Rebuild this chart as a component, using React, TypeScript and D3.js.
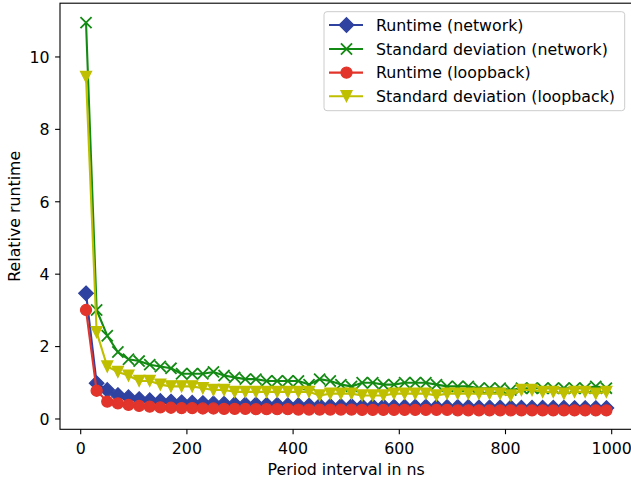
import React from 'react';
import * as d3 from 'd3';

// period intervals in ns (x values of every series)
const periods = d3.range(10, 1000, 20);

const runtimeNetwork = [
  3.47, 0.99, 0.8, 0.66, 0.6, 0.55, 0.52, 0.5, 0.48, 0.46,
  0.45, 0.44, 0.43, 0.42, 0.41, 0.4, 0.4, 0.39, 0.39, 0.38,
  0.38, 0.37, 0.37, 0.36, 0.36, 0.36, 0.35, 0.35, 0.35, 0.34,
  0.34, 0.34, 0.34, 0.33, 0.33, 0.33, 0.33, 0.32, 0.32, 0.32,
  0.32, 0.31, 0.31, 0.31, 0.31, 0.31, 0.3, 0.3, 0.3, 0.3,
];
const stdNetwork = [
  10.95, 3.01, 2.3, 1.85, 1.65, 1.6, 1.5, 1.45, 1.4, 1.25,
  1.25, 1.25, 1.3, 1.2, 1.15, 1.1, 1.1, 1.05, 1.05, 1.05,
  1.05, 0.95, 1.1, 1.05, 0.95, 0.9, 1.0, 1.0, 0.95, 0.95,
  1.0, 1.0, 1.0, 0.95, 0.9, 0.9, 0.9, 0.85, 0.85, 0.85,
  0.8, 0.85, 0.85, 0.85, 0.85, 0.85, 0.85, 0.85, 0.9, 0.85,
];
const runtimeLoopback = [
  3.01, 0.78, 0.48, 0.43, 0.39, 0.36, 0.34, 0.32, 0.31, 0.3,
  0.3, 0.29, 0.29, 0.28, 0.28, 0.28, 0.27, 0.27, 0.27, 0.27,
  0.26, 0.26, 0.26, 0.26, 0.26, 0.26, 0.25, 0.25, 0.25, 0.25,
  0.25, 0.25, 0.25, 0.25, 0.25, 0.24, 0.24, 0.24, 0.24, 0.24,
  0.24, 0.24, 0.24, 0.24, 0.24, 0.24, 0.24, 0.24, 0.24, 0.24,
];
const stdLoopback = [
  9.45, 2.4, 1.45, 1.3, 1.2, 1.05, 1.05, 0.95, 0.9, 0.9,
  0.9, 0.85, 0.8, 0.8, 0.75, 0.75, 0.75, 0.75, 0.75, 0.75,
  0.75, 0.75, 0.65, 0.7, 0.7, 0.7, 0.65, 0.65, 0.65, 0.7,
  0.7, 0.7, 0.7, 0.65, 0.7, 0.7, 0.7, 0.7, 0.7, 0.7,
  0.65, 0.8, 0.8, 0.75, 0.75, 0.7, 0.75, 0.75, 0.7, 0.75,
];

const xTicks = [0, 200, 400, 600, 800, 1000];
const yTicks = [0, 2, 4, 6, 8, 10];

type Marker = 'diamond' | 'x' | 'circle' | 'tri';

const series: { label: string; values: number[]; color: string; marker: Marker }[] = [
  { label: 'Runtime (network)', values: runtimeNetwork, color: '#2f42a0', marker: 'diamond' },
  { label: 'Standard deviation (network)', values: stdNetwork, color: '#138a13', marker: 'x' },
  { label: 'Runtime (loopback)', values: runtimeLoopback, color: '#e2342a', marker: 'circle' },
  { label: 'Standard deviation (loopback)', values: stdLoopback, color: '#bfbf00', marker: 'tri' },
];

const W = 631;
const H = 483;
const m = { left: 60, top: 3.2, right: 632.4, bottom: 429.3 };
const FONT = '"DejaVu Sans", sans-serif';
const FS = 15.8;
const MS = 11.1; // marker size in px

const MarkerShape = ({ type, x, y, color }: { type: Marker; x: number; y: number; color: string }) => {
  const h = MS / 2;
  if (type === 'circle') {
    return <circle cx={x} cy={y} r={h} fill={color} stroke={color} strokeWidth={1.2} />;
  }
  if (type === 'diamond') {
    const d = MS * 0.66;
    return (
      <path
        d={`M${x},${y - d}L${x + d},${y}L${x},${y + d}L${x - d},${y}Z`}
        fill={color}
        stroke={color}
        strokeWidth={1.2}
      />
    );
  }
  if (type === 'tri') {
    return (
      <path
        d={`M${x - h},${y - h}L${x + h},${y - h}L${x},${y + h}Z`}
        fill={color}
        stroke={color}
        strokeWidth={1.2}
      />
    );
  }
  return (
    <path
      d={`M${x - h},${y - h}L${x + h},${y + h}M${x - h},${y + h}L${x + h},${y - h}`}
      fill="none"
      stroke={color}
      strokeWidth={1.8}
    />
  );
};

export default function App() {
  const x = d3.scaleLinear().domain([-39, 1039]).range([m.left, m.right]);
  const y = d3.scaleLinear().domain([-0.285, 11.485]).range([m.bottom, m.top]);

  const line = d3
    .line<number>()
    .x((_, i) => x(periods[i]))
    .y((d) => y(d));

  const legX = 324;
  const legY = 11.7;
  const rowY = [25, 49, 72.6, 96.2];

  return (
    <svg
      width={W}
      height={H}
      style={{ position: 'absolute', left: 0, top: 0, background: '#fff' }}
      fontFamily={FONT}
    >
      <defs>
        <clipPath id="plot">
          <rect x={m.left} y={m.top} width={m.right - m.left} height={m.bottom - m.top} />
        </clipPath>
      </defs>

      {/* series */}
      <g clipPath="url(#plot)">
        {series.map((s) => (
          <g key={s.label}>
            <path d={line(s.values) || ''} fill="none" stroke={s.color} strokeWidth={2.1} strokeLinejoin="round" />
            {s.values.map((v, i) => (
              <MarkerShape key={i} type={s.marker} x={x(periods[i])} y={y(v)} color={s.color} />
            ))}
          </g>
        ))}
      </g>

      {/* spines */}
      <rect
        x={m.left}
        y={m.top}
        width={m.right - m.left}
        height={m.bottom - m.top}
        fill="none"
        stroke="#000"
        strokeWidth={1.1}
      />

      {/* x axis */}
      {xTicks.map((t) => (
        <g key={t}>
          <line x1={x(t)} x2={x(t)} y1={m.bottom} y2={m.bottom + 4.9} stroke="#000" strokeWidth={1.1} />
          <text x={x(t)} y={453.5} textAnchor="middle" fontSize={FS} fill="#000">
            {t}
          </text>
        </g>
      ))}
      <text x={(m.left + m.right) / 2} y={474.5} textAnchor="middle" fontSize={FS} fill="#000">
        Period interval in ns
      </text>

      {/* y axis */}
      {yTicks.map((t) => (
        <g key={t}>
          <line x1={m.left - 4.9} x2={m.left} y1={y(t)} y2={y(t)} stroke="#000" strokeWidth={1.1} />
          <text x={49.5} y={y(t) + 5.8} textAnchor="end" fontSize={FS} fill="#000">
            {t}
          </text>
        </g>
      ))}
      <text
        transform={`translate(19.5, ${(m.top + m.bottom) / 2}) rotate(-90)`}
        textAnchor="middle"
        fontSize={FS}
        fill="#000"
      >
        Relative runtime
      </text>

      {/* legend */}
      <rect
        x={legX}
        y={legY}
        width={300.7}
        height={99}
        rx={3}
        fill="#fff"
        fillOpacity={0.8}
        stroke="#ccc"
        strokeWidth={1}
      />
      {series.map((s, i) => (
        <g key={s.label}>
          <line x1={329} x2={363} y1={rowY[i]} y2={rowY[i]} stroke={s.color} strokeWidth={2.1} />
          <MarkerShape type={s.marker} x={346.5} y={rowY[i]} color={s.color} />
          <text x={376} y={rowY[i] + 5.6} fontSize={FS} fill="#000">
            {s.label}
          </text>
        </g>
      ))}
    </svg>
  );
}
